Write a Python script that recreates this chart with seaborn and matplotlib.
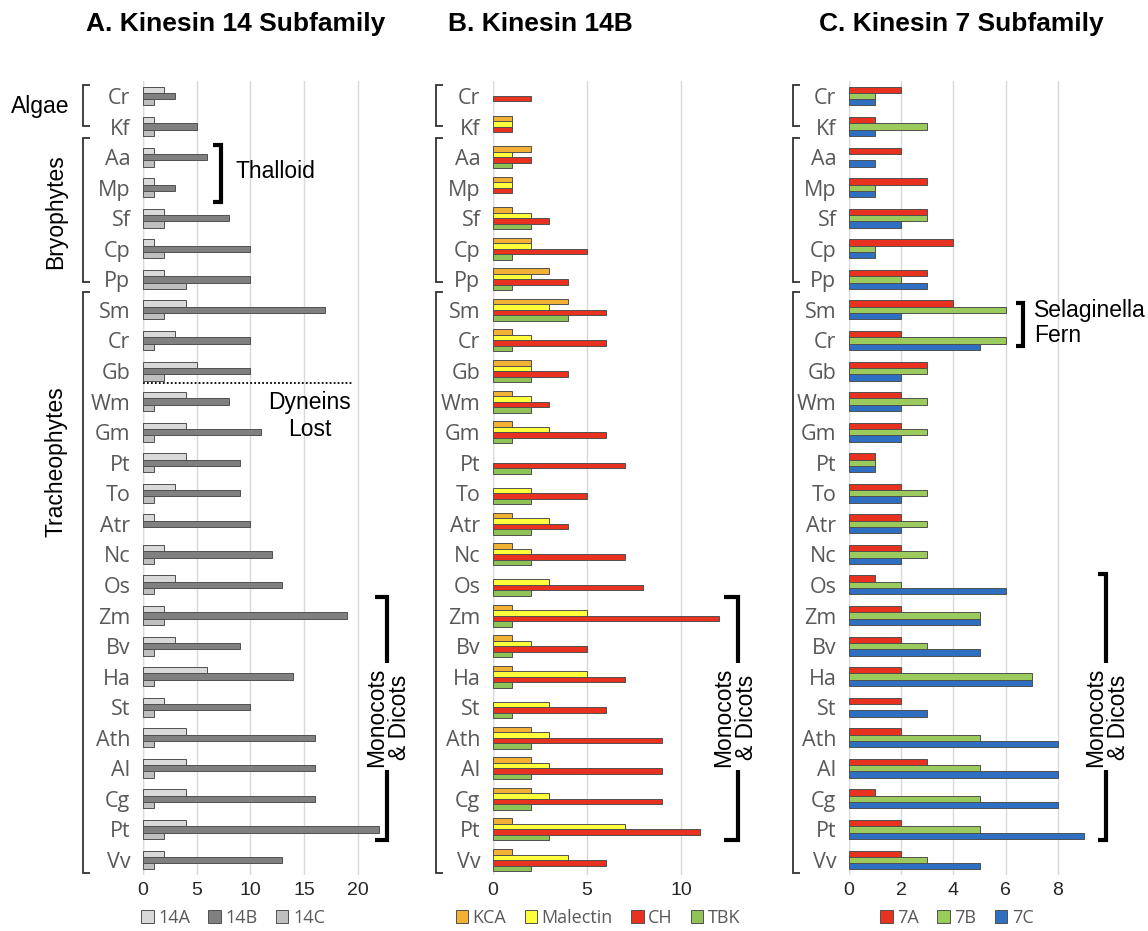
import numpy as np
import pandas as pd
import matplotlib
matplotlib.use("Agg")
import matplotlib.pyplot as plt
import seaborn as sns
from matplotlib.lines import Line2D
from matplotlib.patches import Patch

# ---------------- data ----------------
species = ["Cr", "Kf", "Aa", "Mp", "Sf", "Cp", "Pp", "Sm", "Cr", "Gb", "Wm", "Gm", "Pt",
           "To", "Atr", "Nc", "Os", "Zm", "Bv", "Ha", "St", "Ath", "Al", "Cg", "Pt", "Vv"]

# Panel A: Kinesin 14 subfamily
k14A = [2, 1, 1, 1, 2, 1, 2, 4, 3, 5, 4, 4, 4, 3, 1, 2, 3, 2, 3, 6, 2, 4, 4, 4, 4, 2]
k14B = [3, 5, 6, 3, 8, 10, 10, 17, 10, 10, 8, 11, 9, 9, 10, 12, 13, 19, 9, 14, 10, 16, 16, 16, 22, 13]
k14C = [1, 1, 1, 1, 2, 2, 4, 2, 1, 2, 1, 1, 1, 1, 0, 1, 1, 2, 1, 1, 1, 1, 1, 1, 2, 1]

# Panel B: Kinesin 14B
KCA      = [0, 1, 2, 1, 1, 2, 3, 4, 1, 2, 1, 1, 0, 0, 1, 1, 0, 1, 1, 1, 0, 2, 2, 2, 1, 1]
Malectin = [0, 1, 1, 1, 2, 2, 2, 3, 2, 2, 2, 3, 0, 2, 3, 2, 3, 5, 2, 5, 3, 3, 3, 3, 7, 4]
CH       = [2, 1, 2, 1, 3, 5, 4, 6, 6, 4, 3, 6, 7, 5, 4, 7, 8, 12, 5, 7, 6, 9, 9, 9, 11, 6]
TBK      = [0, 0, 1, 0, 2, 1, 1, 4, 1, 2, 2, 1, 2, 2, 2, 2, 2, 1, 1, 1, 1, 2, 2, 2, 3, 2]

# Panel C: Kinesin 7 subfamily
k7A = [2, 1, 2, 3, 3, 4, 3, 4, 2, 3, 2, 2, 1, 2, 2, 2, 1, 2, 2, 2, 2, 2, 3, 1, 2, 2]
k7B = [1, 3, 0, 1, 3, 1, 2, 6, 6, 3, 3, 3, 1, 3, 3, 3, 2, 5, 3, 7, 0, 5, 5, 5, 5, 3]
k7C = [1, 1, 1, 1, 2, 1, 3, 2, 5, 2, 2, 2, 1, 2, 2, 2, 6, 5, 5, 7, 3, 8, 8, 8, 9, 5]

sns.set_style("white")
plt.rcParams["font.family"] = ["Liberation Sans", "DejaVu Sans"]

W, H = 1148, 931
fig = plt.figure(figsize=(W / 100, H / 100), dpi=100)


def fx(x):
    return x / W


def fy(y):
    return 1 - y / H


LABEL_FONT = {"family": "Open Sans", "size": 15.5, "color": "#595959"}
TICK_FONT = {"family": "Liberation Sans", "size": 14, "color": "#262626"}

ax_top, ax_bot = 80.7, 875.3


def panel(x0, x1, names, values, colors, xmax, xticks, width, legend_x):
    keys = [f"{i:02d}" for i in range(len(species))]
    rows = []
    for name, vals in zip(names, values):
        for k, v in zip(keys, vals):
            rows.append({"key": k, "series": name, "value": v if v > 0 else np.nan})
    df = pd.DataFrame(rows)
    ax = fig.add_axes([fx(x0), fy(ax_bot), fx(x1 - x0), (ax_bot - ax_top) / H])
    sns.barplot(data=df, y="key", x="value", hue="series", hue_order=names, order=keys,
                palette=colors, orient="h", width=width, edgecolor="#505050",
                linewidth=0.7, ax=ax, legend=False, errorbar=None, saturation=1)
    ax.set_xlim(0, xmax)
    ax.set_ylim(len(species) - 0.5, -0.5)
    ax.set_xticks(xticks)
    ax.set_xticklabels([str(t) for t in xticks], fontdict=TICK_FONT)
    ax.set_yticks(range(len(species)))
    ax.set_yticklabels(species, fontdict=LABEL_FONT)
    ax.tick_params(axis="both", length=0)
    ax.tick_params(axis="y", pad=9)
    ax.tick_params(axis="x", pad=5)
    ax.set_xlabel("")
    ax.set_ylabel("")
    for s in ax.spines.values():
        s.set_visible(False)
    ax.set_axisbelow(True)
    ax.xaxis.grid(True, color="#d9d9d9", linewidth=1)
    ax.yaxis.grid(False)
    ax.axvline(0, color="#d9d9d9", linewidth=1, zorder=0)
    handles = [Patch(facecolor=c, edgecolor="#505050", linewidth=0.7) for c in colors]
    fig.legend(handles, names, loc="center", bbox_to_anchor=(fx(legend_x), fy(918)),
               ncol=len(names), frameon=False, handlelength=0.7, handleheight=0.7,
               columnspacing=1.0, handletextpad=0.25,
               prop={"family": "Open Sans", "size": 13}, labelcolor="#595959")
    return ax


axA = panel(143, 143 + 22.2 * 10.73, ["14A", "14B", "14C"], [k14A, k14B, k14C],
            ["#d9d9d9", "#808080", "#bfbfbf"], 22.2, [0, 5, 10, 15, 20], 0.62, 233)
axB = panel(493, 493 + 12.1 * 18.8, ["KCA", "Malectin", "CH", "TBK"], [KCA, Malectin, CH, TBK],
            ["#f2b134", "#ffff3a", "#e8321f", "#8fc257"], 12.1, [0, 5, 10], 0.72, 598)
axC = panel(849, 849 + 9.05 * 26.1, ["7A", "7B", "7C"], [k7A, k7B, k7C],
            ["#e8321f", "#9acb5c", "#2f6fc2"], 9.05, [0, 2, 4, 6, 8], 0.62, 957)

# ---------------- titles ----------------
for cx, t in [(236, "A. Kinesin 14 Subfamily"), (540, "B. Kinesin 14B"), (961, "C. Kinesin 7 Subfamily")]:
    fig.text(fx(cx), fy(24), t, ha="center", va="center", fontsize=19, fontweight="bold",
             family="Liberation Sans", color="black")


# ---------------- brackets ----------------
def line(xs, ys, lw=1.3, color="#333333", ls="-"):
    fig.add_artist(Line2D([fx(x) for x in xs], [fy(y) for y in ys], lw=lw, color=color,
                          linestyle=ls, solid_capstyle="butt", solid_joinstyle="miter"))


def left_bracket(x, y0, y1, serif=7):
    line([x + serif, x, x, x + serif], [y0, y0, y1, y1])


def right_bracket(x, y0, y1, serif=8, gap=None):
    if gap is None:
        line([x - serif, x, x, x - serif], [y0, y0, y1, y1], lw=3, color="black")
    else:
        line([x - serif, x, x], [y0, y0, gap[0]], lw=3, color="black")
        line([x, x, x - serif], [gap[1], y1, y1], lw=3, color="black")


for bx in (83, 436, 793):
    left_bracket(bx, 85, 126)
    left_bracket(bx, 138, 282)
    left_bracket(bx, 292, 873)

ann = {"family": "Liberation Sans", "size": 16.5, "color": "black"}
fig.text(fx(40), fy(107), "Algae", ha="center", va="center", **ann)
fig.text(fx(56), fy(212), "Bryophytes", ha="center", va="center", rotation=90, **ann)
fig.text(fx(56), fy(462), "Tracheophytes", ha="center", va="center", rotation=90, **ann)

# Thalloid
right_bracket(221, 145, 202, serif=8)
fig.text(fx(235), fy(172), "Thalloid", ha="left", va="center", **ann)

# Dyneins lost
line([143, 352], [383, 383], lw=1.3, color="black", ls=(0, (1, 1.2)))
fig.text(fx(310), fy(416), "Dyneins\nLost", ha="center", va="center", linespacing=1.2, **ann)

# Monocots & Dicots
right_bracket(387, 597, 840, serif=12, gap=(663, 770))
fig.text(fx(388), fy(717), "Monocots\n& Dicots", ha="center", va="center", rotation=90,
         linespacing=1.0, **ann)
right_bracket(738, 597, 840, serif=14, gap=(663, 770))
fig.text(fx(735), fy(717), "Monocots\n& Dicots", ha="center", va="center", rotation=90,
         linespacing=1.0, **ann)
right_bracket(1106, 574, 840, serif=8, gap=(663, 770))
fig.text(fx(1107), fy(717), "Monocots\n& Dicots", ha="center", va="center", rotation=90,
         linespacing=1.0, **ann)

# Selaginella / Fern
right_bracket(1023, 303, 346, serif=7)
fig.text(fx(1034), fy(323), "Selaginella\nFern", ha="left", va="center", linespacing=1.15, **ann)

fig.savefig("out.png", dpi=100)
